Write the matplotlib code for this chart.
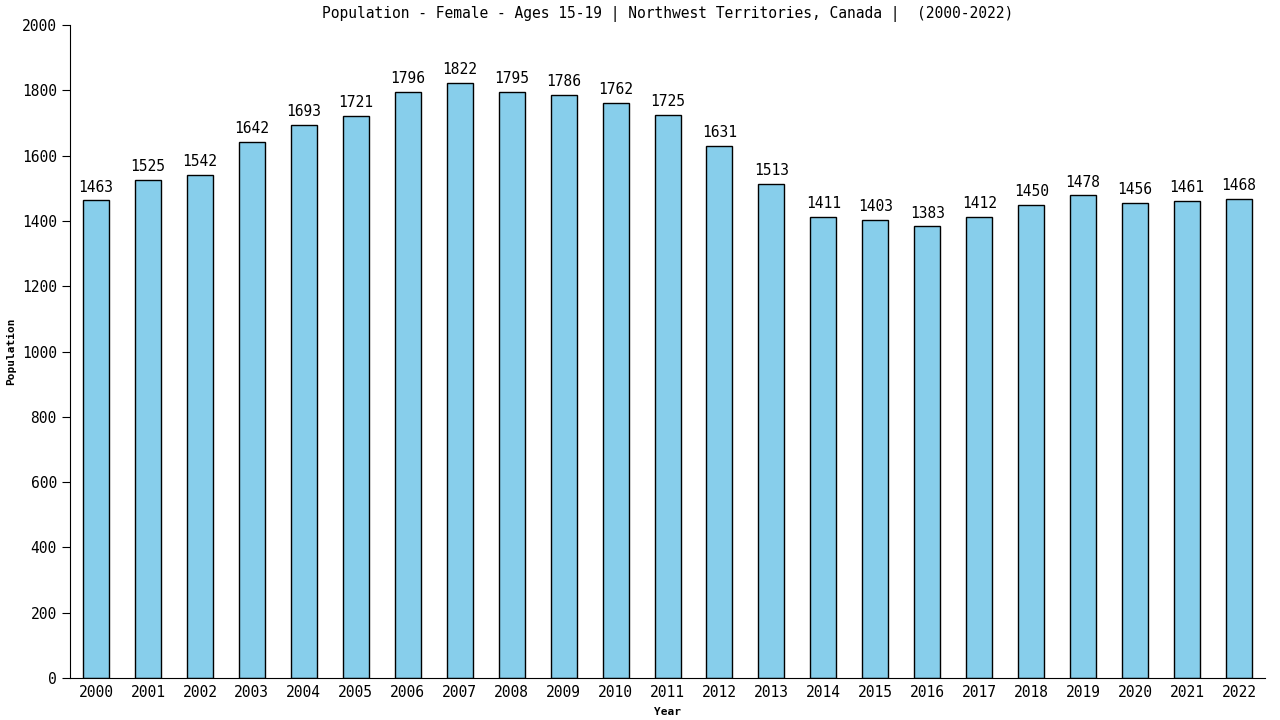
import matplotlib.pyplot as plt

years = [str(y) for y in range(2000, 2023)]
population = [1463, 1525, 1542, 1642, 1693, 1721, 1796, 1822, 1795, 1786, 1762, 1725,
              1631, 1513, 1411, 1403, 1383, 1412, 1450, 1478, 1456, 1461, 1468]

plt.rcParams['font.family'] = 'DejaVu Sans Mono'

fig = plt.figure(figsize=(12.8, 7.2), dpi=100)
ax = fig.add_axes([0.0547, 0.0583, 0.9336, 0.9069])

x = list(range(len(years)))
ax.bar(x, population, width=0.5, color='#87CEEB', edgecolor='black', linewidth=1)

# value labels above bars
for i, v in enumerate(population):
    ax.text(i, v + 18, str(v), ha='center', va='bottom', fontsize=10.5)

ax.set_xlim(-0.5, 22.5)
ax.set_ylim(0, 2000)
ax.set_xticks(x)
ax.set_xticklabels(years, fontsize=10.5)
ax.set_yticks(range(0, 2001, 200))
ax.tick_params(axis='y', labelsize=10.5, length=6)
ax.tick_params(axis='x', length=0, pad=5)

ax.spines['top'].set_visible(False)
ax.spines['right'].set_visible(False)

ax.set_title('Population - Female - Ages 15-19 | Northwest Territories, Canada |  (2000-2022)',
             fontsize=10.5, pad=5)
ax.set_xlabel('Year', fontsize=8, fontweight='bold', labelpad=5)
ax.set_ylabel('Population', fontsize=8, fontweight='bold', labelpad=4)

fig.savefig('out.png', dpi=100)
